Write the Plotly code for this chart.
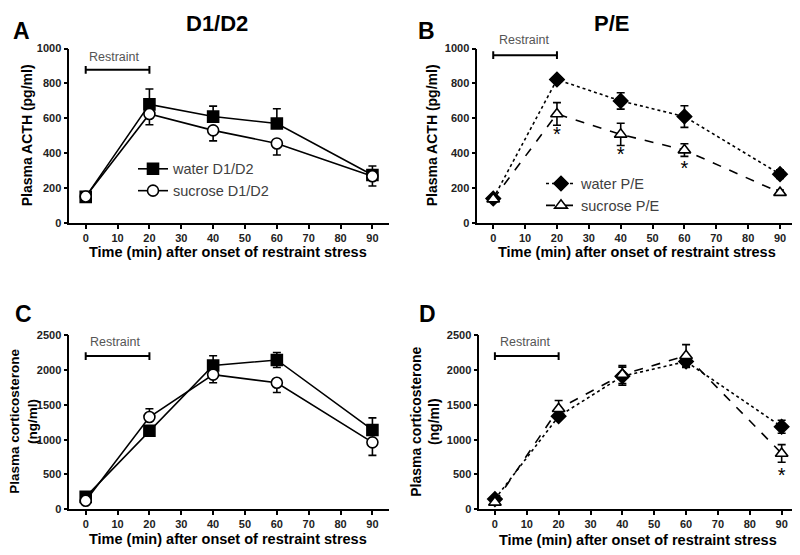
import plotly.graph_objects as go

# sampling times (min)
time = [0, 20, 40, 60, 90]

# A: ACTH, D1/D2
acth_water_d = [150, 680, 610, 570, 275]
acth_water_d_up = [15, 88, 60, 85, 52]
acth_water_d_dn = [15, 0, 0, 0, 0]
acth_sucrose_d = [152, 625, 531, 456, 268]
acth_sucrose_d_up = [15, 0, 0, 0, 0]
acth_sucrose_d_dn = [15, 62, 60, 66, 56]

# B: ACTH, P/E
acth_water_p = [140, 822, 700, 610, 280]
acth_water_p_err = [15, 10, 47, 62, 25]
acth_sucrose_p = [137, 625, 508, 418, 174]
acth_sucrose_p_err = [15, 65, 64, 36, 15]
acth_stars_x = [20, 40, 60]
acth_stars_y = [496, 383, 305]

# C: corticosterone, D1/D2
cort_water_d = [178, 1130, 2068, 2148, 1140]
cort_water_d_up = [30, 0, 140, 108, 175]
cort_water_d_dn = [30, 70, 0, 108, 0]
cort_sucrose_d = [122, 1327, 1937, 1820, 962]
cort_sucrose_d_up = [30, 118, 0, 0, 0]
cort_sucrose_d_dn = [30, 0, 117, 141, 188]

# D: corticosterone, P/E
cort_water_p = [145, 1337, 1914, 2125, 1187]
cort_water_p_err = [30, 40, 130, 85, 93]
cort_sucrose_p = [98, 1445, 1937, 2209, 802]
cort_sucrose_p_err = [30, 120, 130, 160, 127]
cort_stars_x = [90]
cort_stars_y = [469]

restraint = [0, 20]

FONT = 'Liberation Sans'
# the page body adds an 8px margin, so the figure is 8px smaller each way
OFF = 8
W, H = 800 - OFF, 555 - OFF


def px(x):
    return (x - OFF) / W


def py(y):
    return 1 - (y - OFF) / H


def err(up, dn=None):
    e = dict(type='data', array=up, visible=True, color='black',
             thickness=1.6, width=4)
    if dn is not None:
        e['symmetric'] = False
        e['arrayminus'] = dn
    return e


fig = go.Figure()


def add(xa, ya, y, e, name, symbol, fill, dash, legend, show):
    fig.add_trace(go.Scatter(
        x=time, y=y, mode='lines+markers', name=name,
        xaxis=xa, yaxis=ya, error_y=e,
        line=dict(color='black', width=1.6, dash=dash),
        marker=dict(symbol=symbol, size=11, color=fill,
                    line=dict(color='black', width=1.6)),
        legend=legend, showlegend=show))


add('x', 'y', acth_water_d, err(acth_water_d_up, acth_water_d_dn),
    'water D1/D2', 'square', 'black', 'solid', 'legend', True)
add('x', 'y', acth_sucrose_d, err(acth_sucrose_d_up, acth_sucrose_d_dn),
    'sucrose D1/D2', 'circle', 'white', 'solid', 'legend', True)

add('x2', 'y2', acth_water_p, err(acth_water_p_err),
    'water P/E', 'diamond', 'black', 'dot', 'legend2', True)
add('x2', 'y2', acth_sucrose_p, err(acth_sucrose_p_err),
    'sucrose P/E', 'triangle-up', 'white', 'dash', 'legend2', True)

add('x3', 'y3', cort_water_d, err(cort_water_d_up, cort_water_d_dn),
    'water D1/D2', 'square', 'black', 'solid', 'legend', False)
add('x3', 'y3', cort_sucrose_d, err(cort_sucrose_d_up, cort_sucrose_d_dn),
    'sucrose D1/D2', 'circle', 'white', 'solid', 'legend', False)

add('x4', 'y4', cort_water_p, err(cort_water_p_err),
    'water P/E', 'diamond', 'black', 'dot', 'legend2', False)
add('x4', 'y4', cort_sucrose_p, err(cort_sucrose_p_err),
    'sucrose P/E', 'triangle-up', 'white', 'dash', 'legend2', False)

# significance stars
for xa, ya, xs, ys in (('x2', 'y2', acth_stars_x, acth_stars_y),
                       ('x4', 'y4', cort_stars_x, cort_stars_y)):
    fig.add_trace(go.Scatter(
        x=xs, y=ys, mode='text', text=['*'] * len(xs),
        textfont=dict(family=FONT, size=20, color='black'),
        textposition='middle center', xaxis=xa, yaxis=ya,
        showlegend=False, hoverinfo='skip', cliponaxis=False))

# restraint bars: (xref, yref, bar level, cap half height, label pixel x, y)
bars = [('x', 'y', 878, 22, 114, 52),
        ('x2', 'y2', 962, 22, 524, 35),
        ('x3', 'y3', 2204, 56, 115, 343),
        ('x4', 'y4', 2204, 56, 525, 343)]
for xr, yr, lvl, cap, tx, ty in bars:
    fig.add_shape(type='line', xref=xr, yref=yr, x0=restraint[0], x1=restraint[1],
                  y0=lvl, y1=lvl, line=dict(color='black', width=2))
    for xe in restraint:
        fig.add_shape(type='line', xref=xr, yref=yr, x0=xe, x1=xe,
                      y0=lvl - cap, y1=lvl + cap, line=dict(color='black', width=2))
    fig.add_annotation(xref='paper', yref='paper', x=px(tx), y=py(ty), text='Restraint',
                       showarrow=False, xanchor='center', yanchor='middle',
                       font=dict(family=FONT, size=12.5, color='#555555'))

ticks_x = [0, 10, 20, 30, 40, 50, 60, 70, 80, 90]
xcommon = dict(showgrid=False, zeroline=False, showline=True, linecolor='black',
               linewidth=1.6, ticks='outside', ticklen=4, tickwidth=1.6,
               tickcolor='black', tickvals=ticks_x,
               tickfont=dict(family=FONT, size=11, color='#222222', weight='bold'))
ycommon = dict(showgrid=False, zeroline=False, showline=True, linecolor='black',
               linewidth=1.6, ticks='outside', ticklen=4, tickwidth=1.6,
               tickcolor='black',
               tickfont=dict(family=FONT, size=11, color='#222222', weight='bold'))

top_y = [py(221.7), py(43.3)]
bot_y = [py(514.3), py(336.7)]

fig.update_layout(
    width=W, height=H, margin=dict(l=0, r=0, t=0, b=0),
    plot_bgcolor='white', paper_bgcolor='white',
    font=dict(family=FONT, color='black'),
    xaxis=dict(xcommon, domain=[px(69.3), px(389.3)], range=[-5.15, 95.3], anchor='y'),
    yaxis=dict(ycommon, domain=top_y, range=[0, 1000], anchor='x',
               tickvals=[0, 200, 400, 600, 800, 1000]),
    xaxis2=dict(xcommon, domain=[px(477.3), px(795)], range=[-5.0, 94.7], anchor='y2'),
    yaxis2=dict(ycommon, domain=top_y, range=[0, 1000], anchor='x2',
                tickvals=[0, 200, 400, 600, 800, 1000]),
    xaxis3=dict(xcommon, domain=[px(69.3), px(389.3)], range=[-5.15, 95.3], anchor='y3'),
    yaxis3=dict(ycommon, domain=bot_y, range=[0, 2500], anchor='x3',
                tickvals=[0, 500, 1000, 1500, 2000, 2500]),
    xaxis4=dict(xcommon, domain=[px(479.3), px(796)], range=[-4.9, 94.5], anchor='y4'),
    yaxis4=dict(ycommon, domain=bot_y, range=[0, 2500], anchor='x4',
                tickvals=[0, 500, 1000, 1500, 2000, 2500]),
    legend=dict(x=px(133), y=py(150), xanchor='left', yanchor='top',
                bgcolor='rgba(0,0,0,0)', font=dict(family=FONT, size=14.5, color='#404040'),
                tracegroupgap=0),
    legend2=dict(x=px(541), y=py(165), xanchor='left', yanchor='top',
                 bgcolor='rgba(0,0,0,0)', font=dict(family=FONT, size=14.5, color='#404040'),
                 tracegroupgap=0),
)

bold = dict(family=FONT, color='black', weight='bold')
labels = [('A', 21, 25, 23, 0), ('B', 426.5, 25, 23, 0),
          ('C', 23, 314.5, 23, 0), ('D', 427.5, 314.5, 23, 0),
          ('D1/D2', 217, 18, 22, 0), ('P/E', 611, 18, 22, 0),
          ('Plasma ACTH (pg/ml)', 27, 132, 14, -90),
          ('Plasma ACTH (pg/ml)', 432, 132, 14, -90),
          ('Plasma corticosterone<br>(ng/ml)', 24, 425, 13.5, -90),
          ('Plasma corticosterone<br>(ng/ml)', 425, 425, 14, -90),
          ('Time (min) after onset of restraint stress', 228, 251.7, 14.5, 0),
          ('Time (min) after onset of restraint stress', 636.7, 251.7, 14.5, 0),
          ('Time (min) after onset of restraint stress', 228, 545, 14.5, 0),
          ('Time (min) after onset of restraint stress', 637.5, 545.7, 14.5, 0)]
for text, x, y, size, angle in labels:
    fig.add_annotation(xref='paper', yref='paper', x=px(x), y=py(y), text=text,
                       showarrow=False, textangle=angle, xanchor='center',
                       yanchor='middle', font=dict(bold, size=size))

fig.write_html("out.html")
